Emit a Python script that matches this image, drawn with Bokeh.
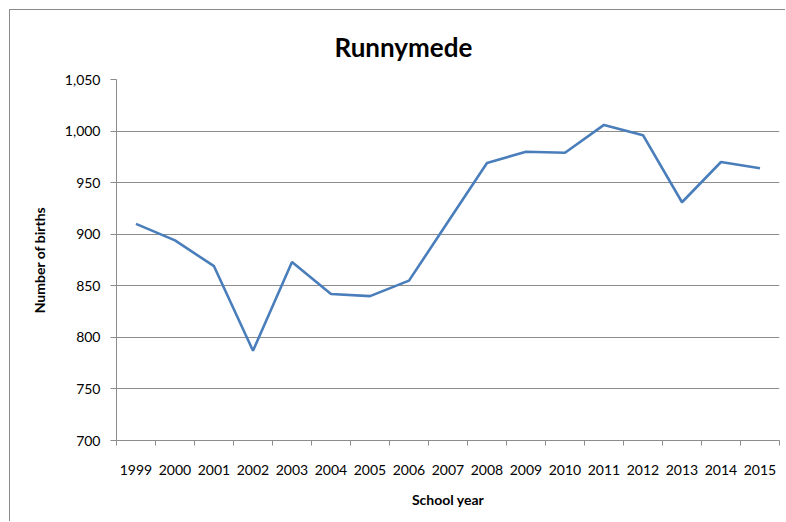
from bokeh.plotting import figure
from bokeh.embed import file_html
from bokeh.resources import INLINE
from bokeh.models import FixedTicker, NumeralTickFormatter, Range1d, Title

years = [1999, 2000, 2001, 2002, 2003, 2004, 2005, 2006, 2007, 2008,
         2009, 2010, 2011, 2012, 2013, 2014, 2015]
births = [910, 894, 869, 787, 873, 842, 840, 855, 912, 969,
          980, 979, 1006, 996, 931, 970, 964]
y_ticks = [700, 750, 800, 850, 900, 950, 1000, 1050]

FONT = "Lato"
GREY = "#8c8c8c"

p = figure(width=776, height=512, output_backend="svg", toolbar_location=None,
           x_range=Range1d(years[0] - 0.5, years[-1] + 0.5),
           y_range=Range1d(y_ticks[0], y_ticks[-1]),
           min_border_left=106, min_border_right=7, min_border_top=69, min_border_bottom=82)
p.styles = {"border-left": "1px solid #8a8a8a", "border-top": "1px solid #8a8a8a",
            "margin-left": "9px", "margin-top": "9px"}
p.outline_line_color = None
p.background_fill_color = "white"
p.border_fill_color = "white"

t = Title(text="Runnymede", align="left", text_font=FONT, text_font_size="26px",
          text_font_style="bold", text_color="black", offset=218, standoff=33)
p.add_layout(t, "above")

p.line(years, births, line_color="#4a7ebb", line_width=2.6)

# x axis
p.xaxis.ticker = FixedTicker(ticks=years, minor_ticks=[y + 0.5 for y in [years[0] - 1] + years])
p.xaxis.major_tick_out = 0
p.xaxis.major_tick_in = 0
p.xaxis.minor_tick_out = 5
p.xaxis.minor_tick_in = 0
p.xaxis.minor_tick_line_color = GREY
p.xaxis.axis_line_color = GREY
p.xaxis.major_label_text_font = FONT
p.xaxis.major_label_text_font_size = "14px"
p.xaxis.major_label_text_color = "black"
p.xaxis.major_label_standoff = 19
p.xaxis.axis_label = "School year"
p.xaxis.axis_label_text_font = FONT
p.xaxis.axis_label_text_font_size = "14px"
p.xaxis.axis_label_text_font_style = "bold"
p.xaxis.axis_label_text_color = "black"
p.xaxis.axis_label_standoff = 13
p.xgrid.grid_line_color = None

# y axis
p.yaxis.ticker = FixedTicker(ticks=y_ticks)
p.yaxis.formatter = NumeralTickFormatter(format="0,0")
p.yaxis.major_tick_out = 6
p.yaxis.major_tick_in = 0
p.yaxis.minor_tick_line_color = None
p.yaxis.major_tick_line_color = GREY
p.yaxis.axis_line_color = GREY
p.yaxis.major_label_text_font = FONT
p.yaxis.major_label_text_font_size = "14px"
p.yaxis.major_label_text_color = "black"
p.yaxis.major_label_standoff = 10
p.yaxis.axis_label = "Number of births"
p.yaxis.axis_label_text_font = FONT
p.yaxis.axis_label_text_font_size = "14px"
p.yaxis.axis_label_text_font_style = "bold"
p.yaxis.axis_label_text_color = "black"
p.yaxis.axis_label_standoff = 14
p.ygrid.grid_line_color = GREY
p.ygrid.grid_line_width = 1

open("out.html", "w").write(file_html(p, INLINE))
